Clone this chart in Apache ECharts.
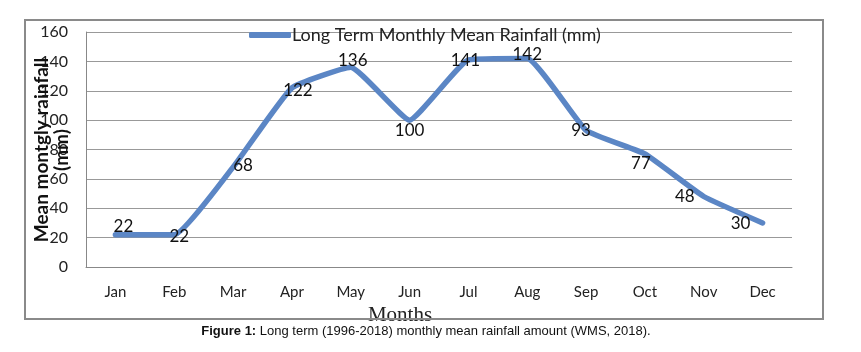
<!DOCTYPE html>
<html>
<head>
<meta charset="utf-8">
<script src="https://cdn.jsdelivr.net/npm/echarts@6/dist/echarts.min.js"></script>
<style>
  body { margin: 0; background: #fff; }
  #chart { width: 861px; height: 352px; }
</style>
</head>
<body>
<div id="chart"></div>
<script>
// data
const months = ['Jan', 'Feb', 'Mar', 'Apr', 'May', 'Jun', 'Jul', 'Aug', 'Sep', 'Oct', 'Nov', 'Dec'];
const rainfall = [22, 22, 68, 122, 136, 100, 141, 142, 93, 77, 48, 30];
const seriesName = 'Long Term Monthly Mean Rainfall (mm)';

// label offsets (px) so the numbers sit like in the picture
const labelOffsets = [[8, -8], [5, 2], [10, -2], [6, 3], [2, -7], [0, 10], [-3, 1], [0, -4], [-5, 0], [-4, 10], [-19, 0], [-22, 1]];

const chart = echarts.init(document.getElementById('chart'));
chart.setOption({
  animation: false,
  textStyle: { fontFamily: 'Lato' },
  grid: { left: 86, right: 69, top: 32, bottom: 85 },
  legend: {
    top: 21,
    left: 244,
    itemWidth: 42,
    itemHeight: 6,
    itemGap: 2,
    icon: 'roundRect',
    textStyle: { fontSize: 18, color: '#222', fontFamily: 'Lato', padding: [0, 0, 0, -4] },
    data: [seriesName]
  },
  xAxis: {
    type: 'category',
    data: months,
    boundaryGap: true,
    axisTick: { show: false },
    axisLine: { lineStyle: { color: '#888', width: 1 } },
    axisLabel: { fontSize: 15, color: '#222', margin: 18 },
    name: 'Months',
    nameLocation: 'middle',
    nameGap: 38,
    nameTextStyle: { fontFamily: 'Liberation Serif', fontSize: 21, color: '#222', padding: [0, 78, 0, 0] }
  },
  yAxis: {
    type: 'value',
    min: 0,
    max: 160,
    interval: 20,
    axisLine: { show: true, lineStyle: { color: '#888', width: 1 } },
    axisTick: { show: false },
    splitLine: { lineStyle: { color: '#999', width: 1 } },
    axisLabel: { fontSize: 16, color: '#222', margin: 18 }
  },
  graphic: [
    {
      type: 'rect',
      shape: { x: 25, y: 20, width: 798, height: 299 },
      style: { fill: 'none', stroke: '#8a8a8a', lineWidth: 2 },
      z: 100
    },
    {
      type: 'text',
      rotation: Math.PI / 2,
      x: 52,
      y: 150,
      style: {
        text: 'Mean montgly rainfall\n(mm)',
        fontFamily: 'Lato',
        fontWeight: 'bold',
        fontSize: 19,
        lineHeight: 20,
        fill: '#111',
        align: 'center',
        verticalAlign: 'middle'
      },
      z: 50
    },
    {
      type: 'text',
      x: 426,
      y: 331,
      style: {
        text: '{b|Figure 1:} Long term (1996-2018) monthly mean rainfall amount (WMS, 2018).',
        rich: {
          b: { fontWeight: 'bold', fontFamily: 'Liberation Sans', fontSize: 13, fill: '#111' }
        },
        fontFamily: 'Liberation Sans',
        fontSize: 13,
        fill: '#111',
        align: 'center',
        verticalAlign: 'middle'
      }
    }
  ],
  series: [
    {
      name: seriesName,
      type: 'line',
      data: rainfall.map((v, i) => ({
        value: v,
        label: { offset: labelOffsets[i] }
      })),
      smooth: 0.12,
      symbol: 'circle',
      showSymbol: true,
      symbolSize: 1,
      lineStyle: { color: '#5b86c5', width: 5.5, cap: 'round', join: 'round' },
      itemStyle: { color: '#5b86c5' },
      label: {
        show: true,
        position: 'inside',
        fontSize: 17,
        color: '#111',
        fontFamily: 'Lato'
      }
    }
  ]
});
window.onresize = function () {
  chart.resize();
};
</script>
</body>
</html>
